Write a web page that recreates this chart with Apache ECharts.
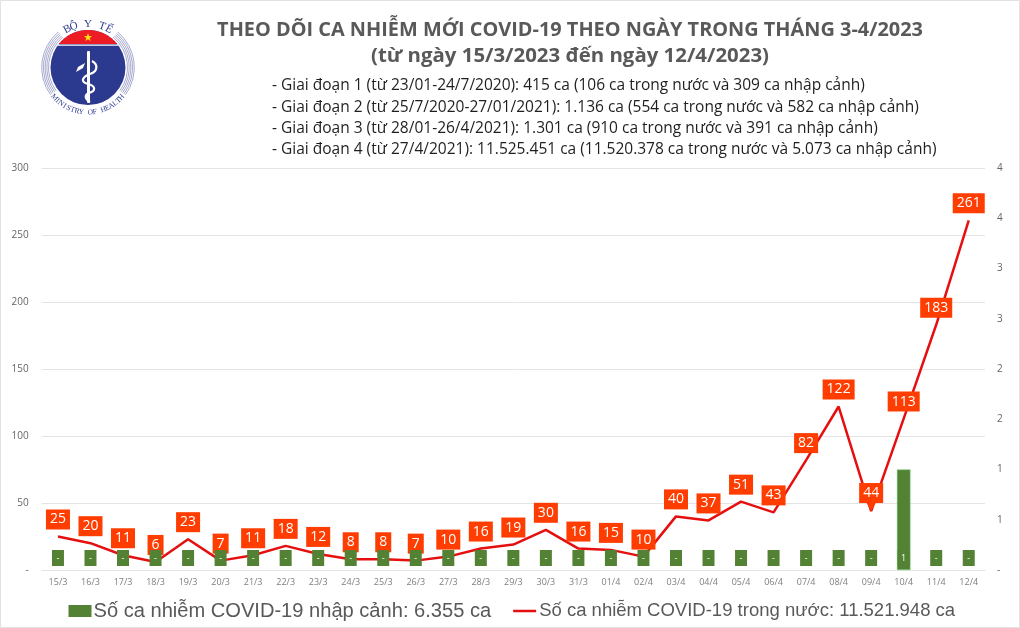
<!DOCTYPE html>
<html>
<head>
<meta charset="utf-8">
<style>html,body{margin:0;padding:0;background:#fff}#main{width:1020px;height:628px}</style>
<script src="https://cdn.jsdelivr.net/npm/echarts@6/dist/echarts.min.js"></script>
</head>
<body>
<div id="main"></div>
<script>
var days = ['15/3','16/3','17/3','18/3','19/3','20/3','21/3','22/3','23/3','24/3','25/3','26/3','27/3','28/3','29/3','30/3','31/3','01/4','02/4','03/4','04/4','05/4','06/4','07/4','08/4','09/4','10/4','11/4','12/4'];
var domestic = [25,20,11,6,23,7,11,18,12,8,8,7,10,16,19,30,16,15,10,40,37,51,43,82,122,44,113,183,261];
var imported = [0,0,0,0,0,0,0,0,0,0,0,0,0,0,0,0,0,0,0,0,0,0,0,0,0,0,1,0,0];
var titleLines = ['THEO DÕI CA NHIỄM MỚI COVID-19 THEO NGÀY TRONG THÁNG 3-4/2023', '(từ ngày 15/3/2023 đến ngày 12/4/2023)'];
var phases = [
  '- Giai đoạn 1 (từ 23/01-24/7/2020): 415 ca (106 ca trong nước và 309 ca nhập cảnh)',
  '- Giai đoạn 2 (từ 25/7/2020-27/01/2021): 1.136 ca (554 ca trong nước và 582 ca nhập cảnh)',
  '- Giai đoạn 3 (từ 28/01-26/4/2021): 1.301 ca (910 ca trong nước và 391 ca nhập cảnh)',
  '- Giai đoạn 4 (từ 27/4/2021): 11.525.451 ca (11.520.378 ca trong nước và 5.073 ca nhập cảnh)'
];
var importedName = 'Số ca nhiễm COVID-19 nhập cảnh: 6.355 ca';
var domesticName = 'Số ca nhiễm COVID-19 trong nước: 11.521.948 ca';

var RED = '#ff3d00', GREEN = '#548235', LINE = '#e60f0f';
var CALLOUT = 25; // only the 09/4 label shows its pointer
var myChart = echarts.init(document.getElementById('main'), null, {renderer: 'canvas'});

// logo, drawn from simple shapes
var cx = 88, cy = 67.5;
var logo = [];
[39.5, 41.2, 42.9, 44.6, 46.3].forEach(function (r) {
  logo.push({type: 'arc', shape: {cx: cx, cy: cy, r: r, startAngle: 144 * Math.PI / 180, endAngle: 230 * Math.PI / 180}, style: {stroke: '#7f84b8', fill: null, lineWidth: 0.7}});
  logo.push({type: 'arc', shape: {cx: cx, cy: cy, r: r, startAngle: -50 * Math.PI / 180, endAngle: 36 * Math.PI / 180}, style: {stroke: '#7f84b8', fill: null, lineWidth: 0.7}});
});
logo.push({type: 'circle', shape: {cx: cx, cy: cy, r: 37.5}, style: {fill: '#2b3a8f'}});

var capPoints = [];
for (var d = -141; d <= -39; d += 3) {
  capPoints.push([cx + 37.5 * Math.cos(d * Math.PI / 180), cy + 37.5 * Math.sin(d * Math.PI / 180)]);
}
logo.push({type: 'polygon', shape: {points: capPoints}, style: {fill: '#ed1c24'}});
logo.push({type: 'rect', shape: {x: 58, y: 44.6, width: 60, height: 1.2}, style: {fill: '#fff'}});

var starPoints = [];
for (var s = 0; s < 10; s++) {
  var sr = s % 2 ? 1.8 : 4.4, sa = (-90 + s * 36) * Math.PI / 180;
  starPoints.push([cx + sr * Math.cos(sa), 37.5 + sr * Math.sin(sa)]);
}
logo.push({type: 'polygon', shape: {points: starPoints}, style: {fill: '#ffde17'}});
logo.push({type: 'rect', shape: {x: 87, y: 51, width: 3, height: 52, r: 1}, style: {fill: '#fff'}});

function snake(x1, y1, cpx1, cpy1, cpx2, cpy2, x2, y2) {
  logo.push({type: 'bezierCurve', shape: {x1: x1, y1: y1, cpx1: cpx1, cpy1: cpy1, cpx2: cpx2, cpy2: cpy2, x2: x2, y2: y2}, style: {fill: null, stroke: '#fff', lineWidth: 2.2}});
}
snake(92, 61, 99, 65, 97, 72, 90, 74);
snake(90, 74, 82, 77, 80, 82, 88, 84);
snake(88, 84, 96, 86, 96, 91, 89, 93);
snake(89, 93, 84, 95, 85, 99, 90, 102);
logo.push({type: 'polygon', shape: {points: [[76, 72], [78, 67], [85, 63], [83, 68]]}, style: {fill: '#fff'}});

function arcText(str, r, mid, step, bottom, size, font, color) {
  var n = str.length;
  for (var i = 0; i < n; i++) {
    var off = (i - (n - 1) / 2) * step;
    var deg = bottom ? mid - off : mid + off;
    var a = deg * Math.PI / 180;
    logo.push({
      type: 'text',
      x: cx + r * Math.cos(a),
      y: cy + r * Math.sin(a),
      rotation: bottom ? (90 - deg) * Math.PI / 180 : -(deg + 90) * Math.PI / 180,
      style: {text: str[i], font: size + 'px ' + font, fill: color, align: 'center', verticalAlign: 'middle'}
    });
  }
}
arcText('BỘ Y TẾ', 43.5, -90, 9.5, false, 11, '"Liberation Serif"', '#2b3a8f');
arcText('MINISTRY OF HEALTH', 45, 90, 5.7, true, 7.5, '"Liberation Serif"', '#2b3a8f');

var texts = [
  {type: 'rect', shape: {x: 0.5, y: 0.5, width: 1019, height: 627}, style: {fill: null, stroke: '#e2e2e2', lineWidth: 1}, silent: true},
  {type: 'text', x: 570, y: 30, style: {text: titleLines[0], font: 'bold 19.9px "Open Sans"', fill: '#595959', align: 'center', verticalAlign: 'middle'}},
  {type: 'text', x: 570, y: 56, style: {text: titleLines[1], font: 'bold 20.4px "Open Sans"', fill: '#595959', align: 'center', verticalAlign: 'middle'}}
];
phases.forEach(function (t, i) {
  texts.push({type: 'text', x: 272, y: 86 + i * 21.3, style: {text: t, font: '15.5px "Open Sans"', fill: '#1f1f1f', align: 'left', verticalAlign: 'middle'}});
});

var option = {
  backgroundColor: '#fff',
  animation: false,
  textStyle: {fontFamily: '"Open Sans"'},
  legend: {
    left: 68.5,
    top: 601,
    width: 950,
    padding: 0,
    itemWidth: 23,
    itemHeight: 12,
    itemGap: 22,
    textStyle: {color: '#595959', fontSize: 20.1, fontFamily: '"Liberation Sans"', padding: [0, 0, 0, -3]},
    data: [
      {name: importedName, icon: 'rect'},
      {
        name: domesticName,
        icon: 'path://M0 0H23V2.5H0Z',
        itemStyle: {color: LINE},
        textStyle: {color: '#595959', fontSize: 18.5, fontFamily: '"Liberation Sans"', padding: [0, 0, 0, -2]}
      }
    ]
  },
  grid: {left: 41.7, right: 35, top: 168, bottom: 58},
  xAxis: {
    type: 'category',
    data: days,
    axisLine: {show: true, lineStyle: {color: '#e4e4e4'}},
    axisTick: {show: false},
    axisLabel: {color: '#7f7f7f', fontSize: 9, margin: 8, interval: 0}
  },
  yAxis: [
    {
      type: 'value', min: 0, max: 300, interval: 50,
      axisLine: {show: false}, axisTick: {show: false},
      splitLine: {lineStyle: {color: '#e4e4e4', width: 1}},
      axisLabel: {color: '#666', fontSize: 10, margin: 13, formatter: function (v) { return v === 0 ? '-' : v; }}
    },
    {
      type: 'value', min: 0, max: 4, interval: 0.5,
      axisLine: {show: false}, axisTick: {show: false}, splitLine: {show: false},
      axisLabel: {color: '#666', fontSize: 10, margin: 12, formatter: function (v) { return v === 0 ? '-' : Math.round(v + 0.001); }}
    }
  ],
  series: [
    {
      name: importedName,
      type: 'bar',
      yAxisIndex: 1,
      barWidth: 13.5,
      itemStyle: {color: GREEN},
      data: imported.map(function (v) {
        return {
          value: v,
          itemStyle: v > 0 ? {borderColor: '#6fcf6f', borderWidth: 0.5} : {borderWidth: 0},
          label: {position: v > 0 ? 'insideBottom' : 'top'}
        };
      }),
      label: {
        show: true,
        distance: 4,
        color: '#fff',
        fontSize: 9,
        width: 12,
        height: 16,
        lineHeight: 16,
        align: 'center',
        backgroundColor: GREEN,
        formatter: function (p) { return p.value === 0 ? '-' : p.value; }
      }
    },
    {
      name: domesticName,
      type: 'line',
      yAxisIndex: 0,
      z: 1,
      symbol: 'triangle',
      showAllSymbol: true,
      symbolSize: function (v, p) { return p.dataIndex === CALLOUT ? [9, 8] : [0.01, 0.01]; },
      symbolRotate: 180,
      symbolOffset: function (v, p) { return p.dataIndex === CALLOUT ? [0, -4] : [0, 0]; },
      itemStyle: {color: RED},
      lineStyle: {color: LINE, width: 2.5},
      data: domestic.map(function (v, i) {
        return i === CALLOUT ? {value: v, label: {distance: 0}} : v;
      }),
      label: {
        show: true,
        position: 'top',
        distance: 7,
        color: '#fff',
        fontSize: 14,
        backgroundColor: RED,
        borderRadius: 0,
        padding: [3, 4, 3, 4]
      }
    }
  ],
  graphic: {elements: logo.concat(texts)}
};
myChart.setOption(option);
window.onresize = myChart.resize;
</script>
</body>
</html>
